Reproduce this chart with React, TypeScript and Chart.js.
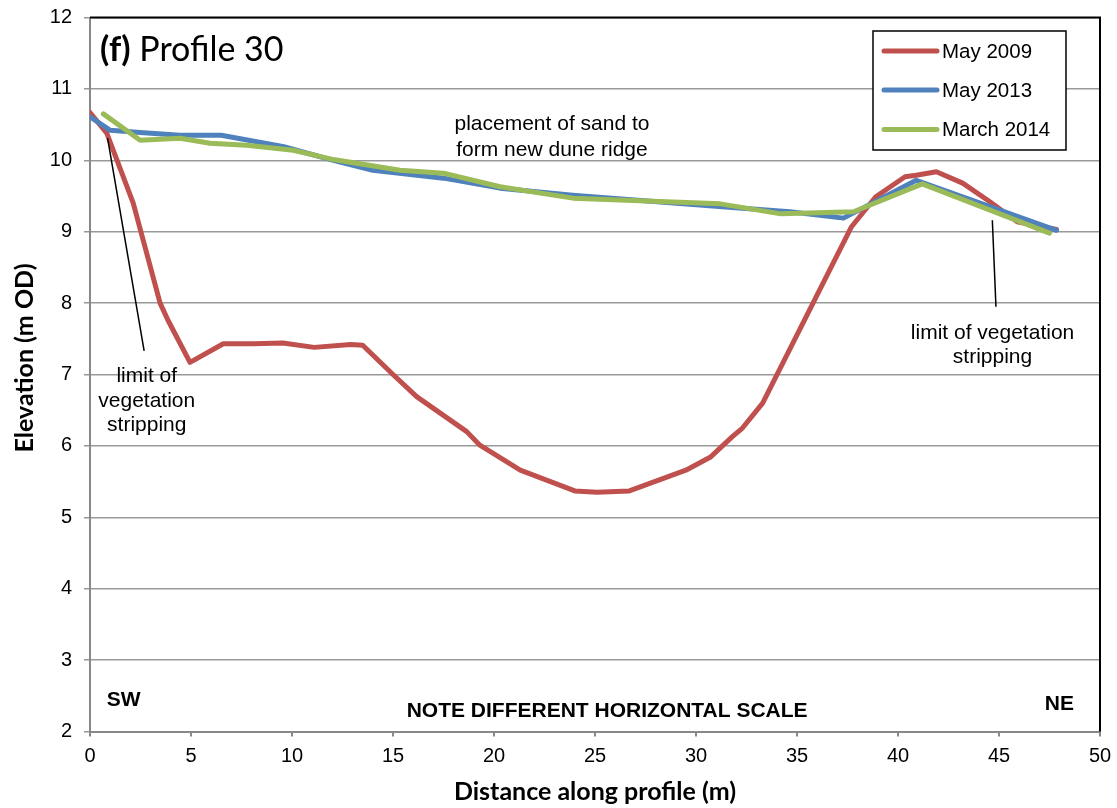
import React, { useEffect, useRef } from "react";
import { Chart, registerables } from "chart.js";

Chart.register(...registerables);

// ---- Data ----
const may2009X = [0, 0.83, 2.14, 3.47, 3.86, 4.95, 6.6, 8.1, 9.55, 11.1, 12.9, 13.5, 15.0, 16.17, 18.65, 19.3, 21.3, 24.0, 25.1, 26.7, 29.5, 30.7, 31.8, 32.3, 33.3, 37.7, 38.9, 40.35, 40.9, 41.9, 43.2, 44.55, 45.9, 47.85];
const may2009Y = [10.67, 10.38, 9.4, 8.0, 7.76, 7.17, 7.43, 7.43, 7.44, 7.38, 7.42, 7.41, 7.0, 6.69, 6.2, 6.01, 5.66, 5.37, 5.35, 5.37, 5.66, 5.84, 6.13, 6.25, 6.6, 9.07, 9.49, 9.77, 9.79, 9.84, 9.68, 9.42, 9.14, 9.03];

const may2013X = [0, 1.0, 2.48, 4.46, 6.5, 9.6, 12.05, 14.0, 17.5, 20.3, 23.9, 31.3, 34.65, 37.3, 40.9, 47.85];
const may2013Y = [10.61, 10.42, 10.39, 10.35, 10.35, 10.19, 10.0, 9.86, 9.75, 9.61, 9.51, 9.35, 9.28, 9.19, 9.72, 9.02];

const march2014X = [0.66, 2.48, 4.46, 5.94, 7.75, 10.06, 12.05, 15.35, 17.5, 20.3, 23.9, 31.2, 34.2, 37.8, 41.2, 47.5];
const march2014Y = [10.65, 10.28, 10.31, 10.24, 10.21, 10.14, 10.01, 9.86, 9.82, 9.63, 9.47, 9.39, 9.25, 9.28, 9.67, 8.98];

const seriesLabels = ["May 2009", "May 2013", "March 2014"];
const seriesColors = ["#C0504D", "#4F81BD", "#9BBB59"];

const xMin = 0, xMax = 50, xStep = 5;
const yMin = 2, yMax = 12, yStep = 1;

const xTitle = "Distance along profile (m)";
const yTitle = "Elevation (m OD)";
const panelTag = "(f)";
const panelName = " Profile 30";
const sandNote = ["placement of sand to", "form new dune ridge"];
const vegNoteLeft = ["limit of", "vegetation", "stripping"];
const vegNoteRight = ["limit of vegetation", "stripping"];
const scaleNote = "NOTE DIFFERENT HORIZONTAL SCALE";
const swLabel = "SW";
const neLabel = "NE";

const ARIAL = "'Liberation Sans', Arial, sans-serif";
const CALI = "Lato, 'Open Sans', sans-serif";

function pts(xs: number[], ys: number[]) {
  return xs.map((x, i) => ({ x, y: ys[i] }));
}

const decorPlugin = {
  id: "decor",
  beforeDatasetsDraw(chart: any) {
    const { ctx, chartArea: a } = chart;
    ctx.save();
    ctx.strokeStyle = "#000";
    ctx.lineWidth = 2;
    ctx.beginPath();
    ctx.moveTo(a.left, a.top);
    ctx.lineTo(a.right, a.top);
    ctx.lineTo(a.right, a.bottom);
    ctx.stroke();
    ctx.restore();
  },
  afterDraw(chart: any) {
    const { ctx, chartArea: a } = chart;
    const xs = chart.scales.x;
    const ys = chart.scales.y;
    const px = (v: number) => xs.getPixelForValue(v);
    const py = (v: number) => ys.getPixelForValue(v);
    ctx.save();
    ctx.fillStyle = "#000";

    // panel title
    ctx.textBaseline = "alphabetic";
    ctx.textAlign = "left";
    ctx.font = `bold 34px ${CALI}`;
    const x0 = px(0.5);
    ctx.fillText(panelTag, x0, py(11.395));
    const w = ctx.measureText(panelTag).width;
    ctx.font = `34px ${CALI}`;
    ctx.fillText(panelName, x0 + w, py(11.395));

    // annotations
    ctx.font = `21px ${ARIAL}`;
    ctx.textAlign = "center";
    ctx.textBaseline = "middle";
    sandNote.forEach((t, i) => ctx.fillText(t, px(22.87), py(10.51) + i * 26));
    vegNoteLeft.forEach((t, i) => ctx.fillText(t, px(2.81), py(6.97) + i * 24.5));
    vegNoteRight.forEach((t, i) => ctx.fillText(t, px(44.68), py(7.58) + i * 24));

    // leader lines
    ctx.strokeStyle = "#000";
    ctx.lineWidth = 1.5;
    ctx.beginPath();
    ctx.moveTo(px(0.87), py(10.31));
    ctx.lineTo(px(2.68), py(7.33));
    ctx.moveTo(px(44.67), py(9.16));
    ctx.lineTo(px(44.85), py(7.95));
    ctx.stroke();

    // bold notes
    ctx.font = `bold 21px ${ARIAL}`;
    ctx.textAlign = "left";
    ctx.fillText(swLabel, px(0.83), py(2.44));
    ctx.textAlign = "right";
    ctx.fillText(neLabel, px(48.71), py(2.38));
    ctx.textAlign = "center";
    ctx.fillText(scaleNote, px(25.6), py(2.28));

    // axis titles
    ctx.font = `bold 25px ${CALI}`;
    ctx.textAlign = "center";
    ctx.textBaseline = "alphabetic";
    ctx.fillText(xTitle, (a.left + a.right) / 2, 800);
    ctx.save();
    ctx.translate(33, 358);
    ctx.rotate(-Math.PI / 2);
    ctx.fillText(yTitle, 0, 0);
    ctx.restore();

    // legend
    const lx = 873, ly = 31, lw = 193, lh = 119;
    ctx.fillStyle = "#fff";
    ctx.fillRect(lx, ly, lw, lh);
    ctx.strokeStyle = "#000";
    ctx.lineWidth = 1.5;
    ctx.strokeRect(lx, ly, lw, lh);
    const rows = [51, 90, 129.5];
    ctx.font = `20.5px ${ARIAL}`;
    ctx.textAlign = "left";
    ctx.textBaseline = "middle";
    seriesLabels.forEach((lab, i) => {
      ctx.strokeStyle = seriesColors[i];
      ctx.lineWidth = 5;
      ctx.lineCap = "round";
      ctx.beginPath();
      ctx.moveTo(884, rows[i]);
      ctx.lineTo(937, rows[i]);
      ctx.stroke();
      ctx.fillStyle = "#000";
      ctx.fillText(lab, 942, rows[i] + 1);
    });
    ctx.restore();
  },
};

export default function App() {
  const ref = useRef<HTMLCanvasElement | null>(null);
  useEffect(() => {
    document.body.style.margin = "0";
    const canvas = ref.current;
    if (!canvas) return;
    const allX = [may2009X, may2013X, march2014X];
    const allY = [may2009Y, may2013Y, march2014Y];
    const chart = new Chart(canvas, {
      type: "line",
      data: {
        datasets: seriesLabels.map((label, i) => ({
          label,
          data: pts(allX[i], allY[i]),
          borderColor: seriesColors[i],
          backgroundColor: seriesColors[i],
          borderWidth: 5,
          pointRadius: 0,
          tension: 0,
          fill: false,
          borderJoinStyle: "round" as const,
          borderCapStyle: "round" as const,
          order: 3 - i,
        })),
      },
      options: {
        responsive: false,
        animation: false,
        events: [],
        layout: { padding: { top: 17.5, right: 17, left: 0, bottom: 0 } },
        plugins: { legend: { display: false }, tooltip: { enabled: false }, title: { display: false } },
        scales: {
          x: {
            type: "linear",
            min: xMin,
            max: xMax,
            afterFit: (s: any) => { s.height = 76.5; s.paddingLeft = 0; s.paddingRight = 0; },
            ticks: { stepSize: xStep, color: "#000", padding: 8, font: { family: ARIAL, size: 20 }, maxRotation: 0 },
            grid: { drawOnChartArea: false, drawTicks: true, tickLength: 5, color: "#888", lineWidth: 2 },
            border: { color: "#888", width: 2 },
            title: { display: false },
          },
          y: {
            type: "linear",
            min: yMin,
            max: yMax,
            afterFit: (s: any) => { s.width = 90; s.paddingTop = 0; s.paddingBottom = 0; },
            ticks: { stepSize: yStep, color: "#000", padding: 12, font: { family: ARIAL, size: 20 } },
            grid: { color: "#999", lineWidth: 1.5, tickLength: 6, drawTicks: true },
            border: { color: "#888", width: 2 },
            title: { display: false },
          },
        },
      },
      plugins: [decorPlugin],
    } as any);
    return () => chart.destroy();
  }, []);
  return (
    <div style={{ width: 1117, height: 808, background: "#fff" }}>
      <canvas ref={ref} width={1117} height={808} style={{ display: "block" }} />
    </div>
  );
}
